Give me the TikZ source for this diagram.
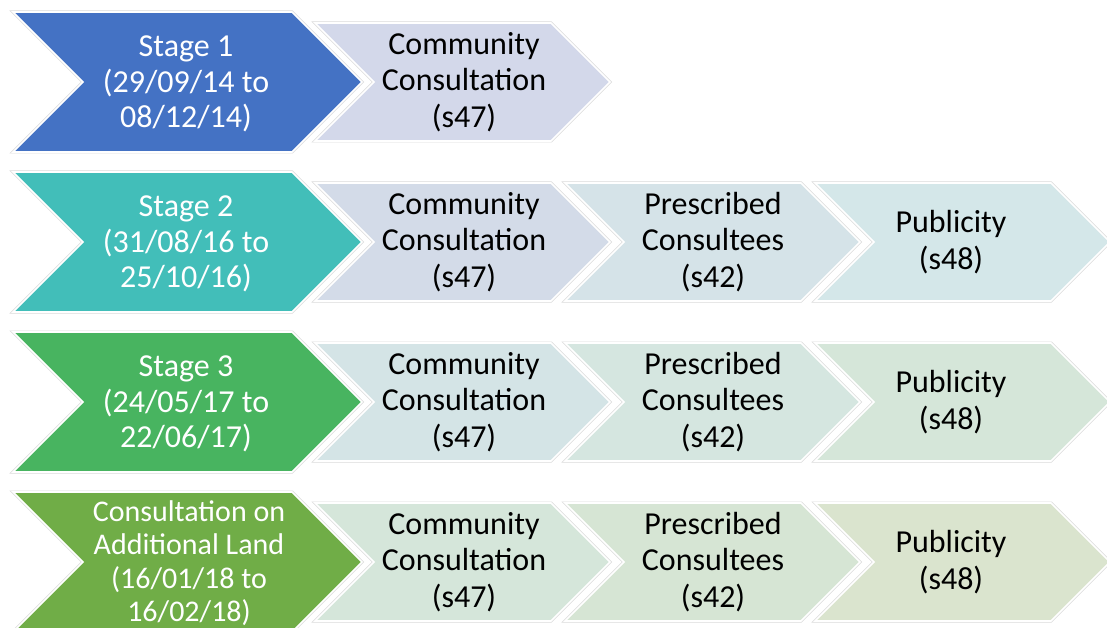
\documentclass[tikz,border=0pt]{standalone}
\usepackage{fontspec}
\setmainfont{Carlito}
\definecolor{cBlue}{RGB}{68,114,196}
\definecolor{cTeal}{RGB}{66,190,185}
\definecolor{cGreenA}{RGB}{72,180,96}
\definecolor{cGreenB}{RGB}{112,173,71}
\definecolor{sA1}{RGB}{211,216,234}
\definecolor{sB1}{RGB}{211,219,232}
\definecolor{sB2}{RGB}{213,227,232}
\definecolor{sB3}{RGB}{212,231,233}
\definecolor{sC1}{RGB}{212,228,230}
\definecolor{sC2}{RGB}{213,230,224}
\definecolor{sC3}{RGB}{213,230,217}
\definecolor{sD1}{RGB}{213,230,218}
\definecolor{sD2}{RGB}{214,229,212}
\definecolor{sD3}{RGB}{218,228,206}
\tikzset{
  shade line/.style={draw=black!14, line width=3pt, line join=miter},
  chev fill/.style={fill=#1, draw=white, line width=1.6pt, line join=miter},
  bigtxt/.style={align=center, text=white, font=\fontsize{32}{35.5}\selectfont},
  bigtxtsm/.style={align=center, text=white, font=\fontsize{30}{33.5}\selectfont},
  smalltxt/.style={align=center, text=black, font=\fontsize{32}{36.5}\selectfont},
}
\newcommand\mybigchev[2]{%
  \draw[shade line] (13,#1-70) -- (292,#1-70) -- (362,#1) -- (292,#1+70) -- (13,#1+70) -- (83,#1) -- cycle;
  \path[chev fill=#2] (13,#1-70) -- (292,#1-70) -- (362,#1) -- (292,#1+70) -- (13,#1+70) -- (83,#1) -- cycle;}
\newcommand\mysmallchev[3]{%
  \draw[shade line] (#1,#2-59) -- (#1+236,#2-59) -- (#1+295,#2) -- (#1+236,#2+59) -- (#1,#2+59) -- (#1+59,#2) -- cycle;
  \path[chev fill=#3] (#1,#2-59) -- (#1+236,#2-59) -- (#1+295,#2) -- (#1+236,#2+59) -- (#1,#2+59) -- (#1+59,#2) -- cycle;}
\begin{document}
\begin{tikzpicture}[x=1pt,y=-1pt]
\useasboundingbox (0,0) rectangle (1107,628);
\clip (0,0) rectangle (1107,628);
\fill[white] (0,0) rectangle (1107,628);
% Row 1
\mysmallchev{315}{82}{sA1}
\mybigchev{82}{cBlue}
\node[bigtxt] (s1) at (186,84) {Stage 1\\(29/09/14 to\\08/12/14)};
\node[smalltxt] (r1a) at (464,82) {Community\\Consultation\\(s47)};
% Row 2
\mysmallchev{315}{242}{sB1}
\mysmallchev{565}{242}{sB2}
\mysmallchev{815}{242}{sB3}
\mybigchev{242}{cTeal}
\node[bigtxt] (s2) at (186,244) {Stage 2\\(31/08/16 to\\25/10/16)};
\node[smalltxt] (r2a) at (464,242) {Community\\Consultation\\(s47)};
\node[smalltxt] (r2b) at (713,242) {Prescribed\\Consultees\\(s42)};
\node[smalltxt] (r2c) at (951,242) {Publicity\\(s48)};
% Row 3
\mysmallchev{315}{402}{sC1}
\mysmallchev{565}{402}{sC2}
\mysmallchev{815}{402}{sC3}
\mybigchev{402}{cGreenA}
\node[bigtxt] (s3) at (186,404) {Stage 3\\(24/05/17 to\\22/06/17)};
\node[smalltxt] (r3a) at (464,402) {Community\\Consultation\\(s47)};
\node[smalltxt] (r3b) at (713,402) {Prescribed\\Consultees\\(s42)};
\node[smalltxt] (r3c) at (951,402) {Publicity\\(s48)};
% Row 4
\mysmallchev{315}{562}{sD1}
\mysmallchev{565}{562}{sD2}
\mysmallchev{815}{562}{sD3}
\mybigchev{562}{cGreenB}
\node[bigtxtsm] (s4) at (189,563) {Consultation on\\Additional Land\\(16/01/18 to\\16/02/18)};
\node[smalltxt] (r4a) at (464,562) {Community\\Consultation\\(s47)};
\node[smalltxt] (r4b) at (713,562) {Prescribed\\Consultees\\(s42)};
\node[smalltxt] (r4c) at (951,562) {Publicity\\(s48)};
\end{tikzpicture}
\end{document}
